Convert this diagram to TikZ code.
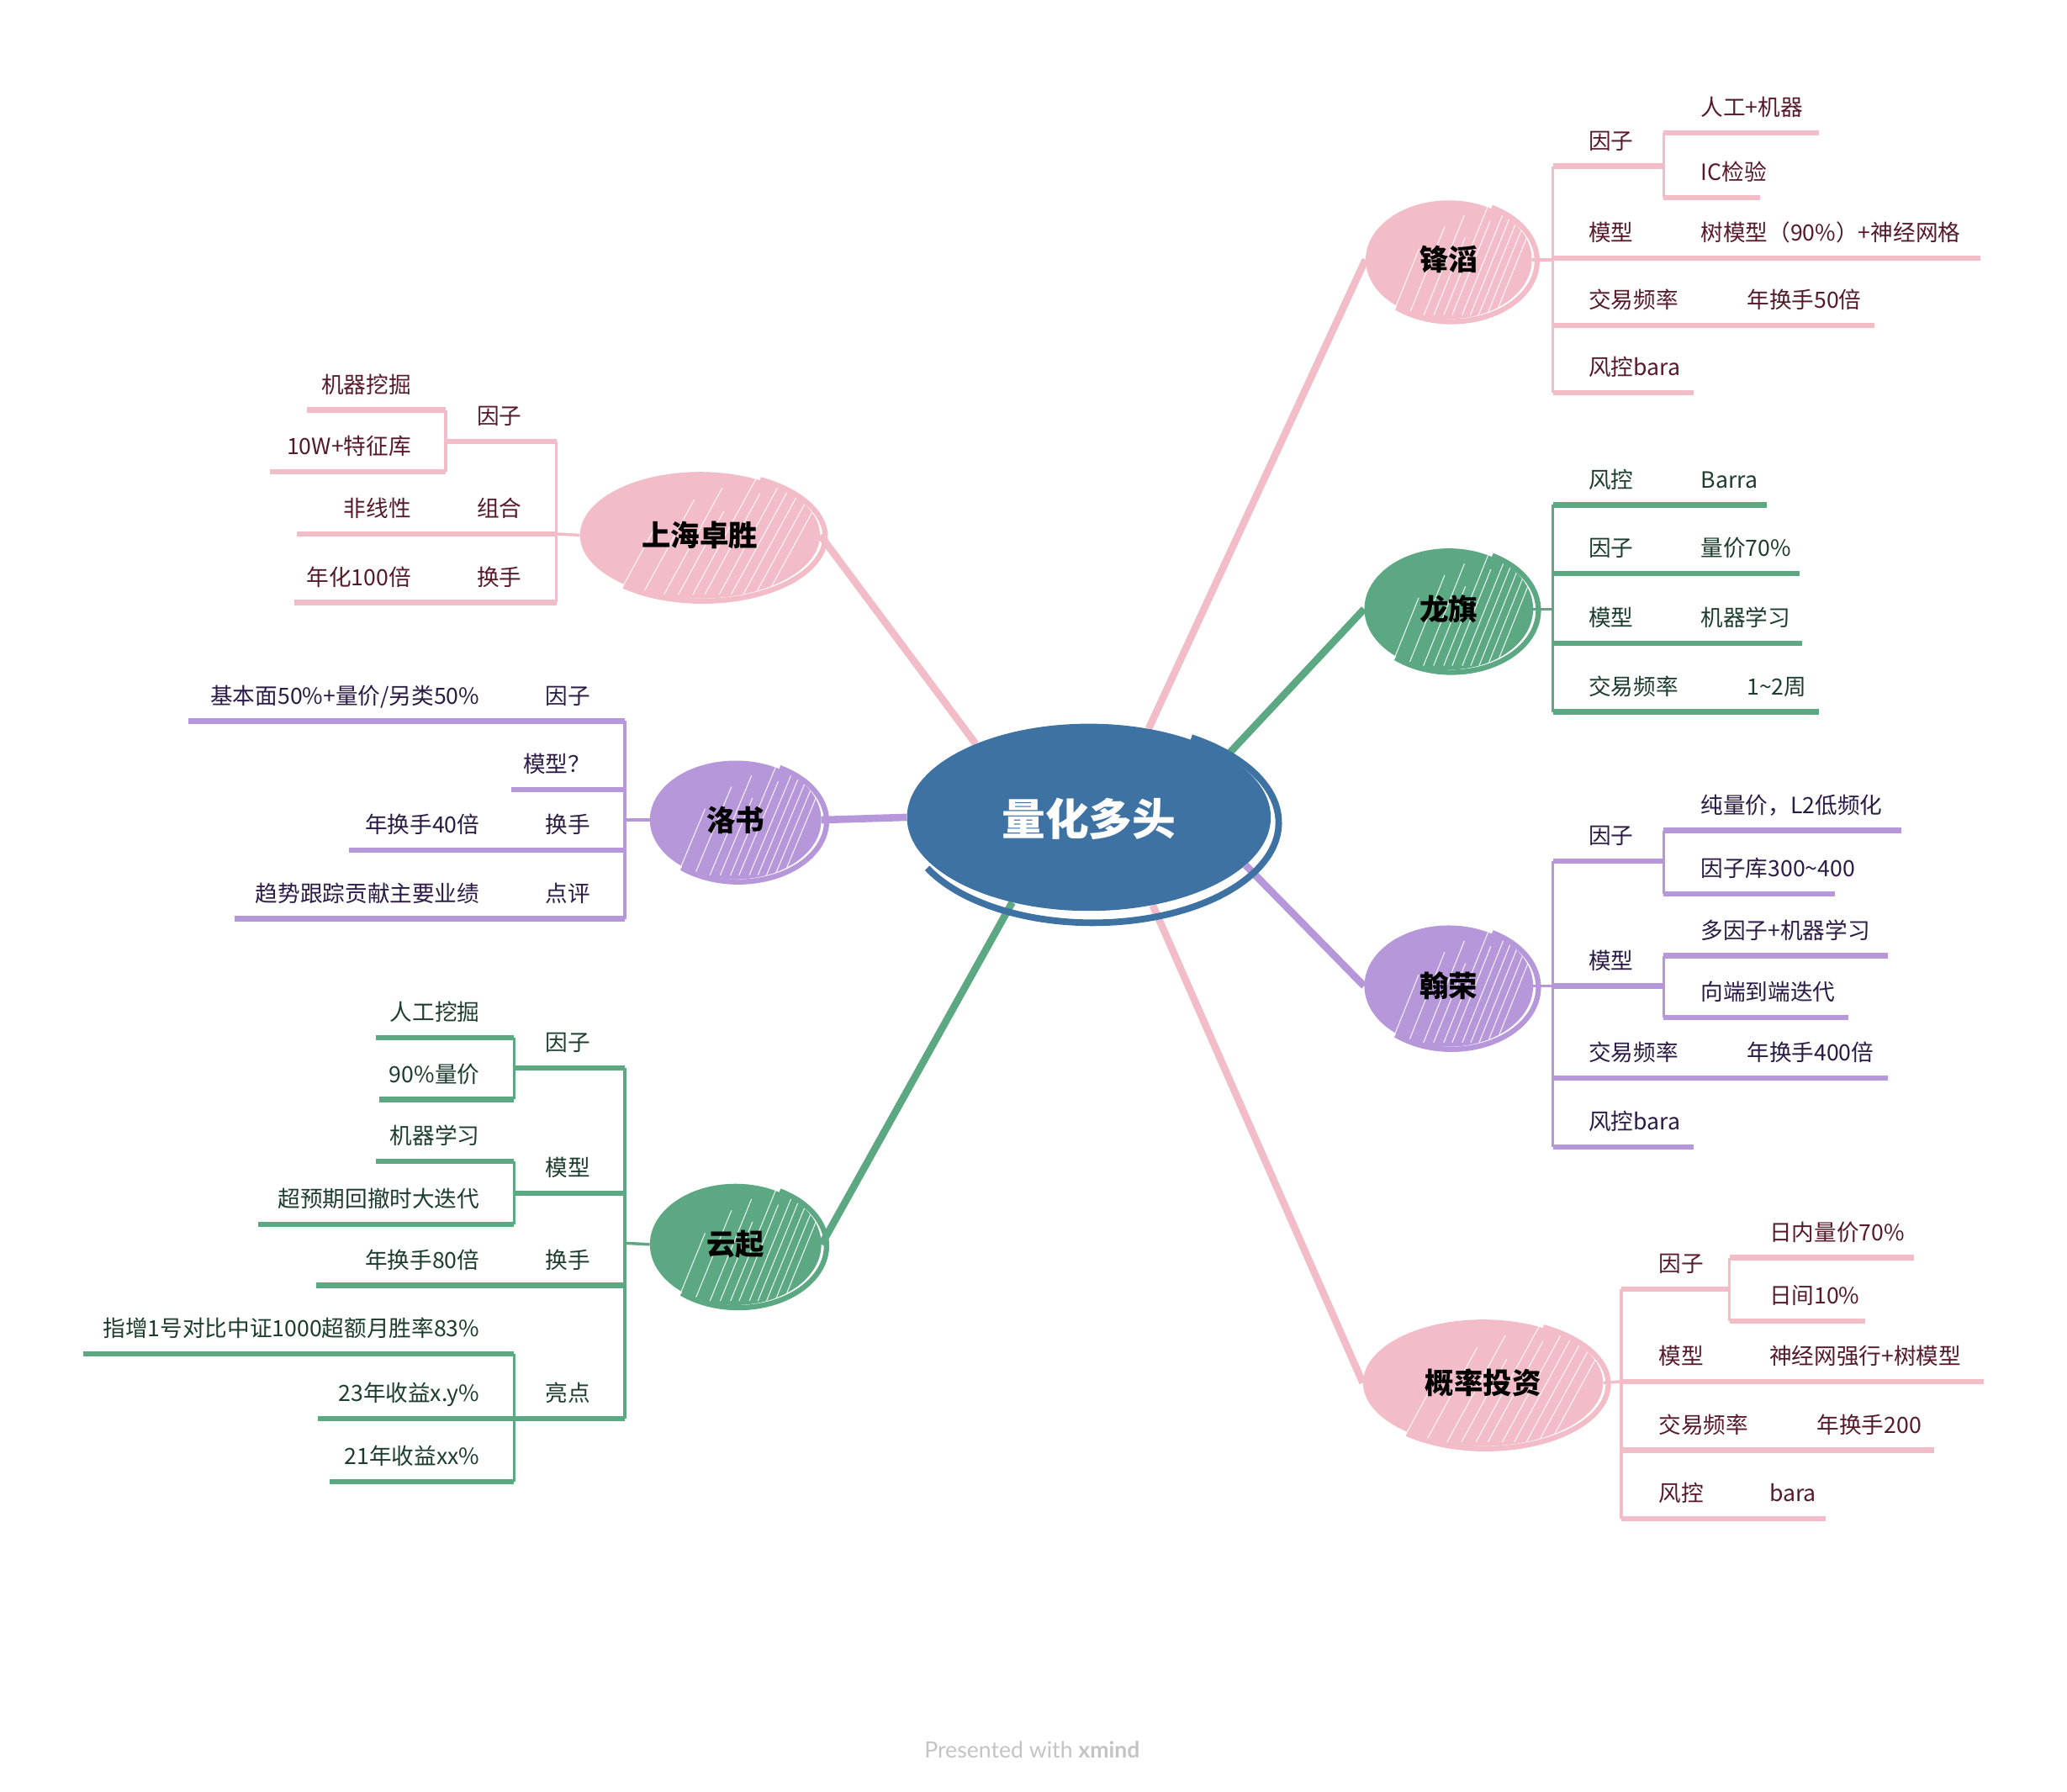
\documentclass[tikz,border=0pt]{standalone}
\usepackage{fontspec}
\usetikzlibrary{shapes.geometric}
\newfontfamily\cjk{Noto Sans CJK SC}
\newfontfamily\footfont{Lato}
\definecolor{pkL}{HTML}{F2BDC8}
\definecolor{pkT}{HTML}{561A2A}
\definecolor{grL}{HTML}{5BA883}
\definecolor{grT}{HTML}{1D3D2E}
\definecolor{puL}{HTML}{B697D9}
\definecolor{puT}{HTML}{2C1B45}
\definecolor{blueC}{HTML}{3D72A3}
\definecolor{footC}{HTML}{C4C4C4}
\pgfdeclarelayer{bg}\pgfsetlayers{bg,main}
\tikzset{
 lbl/.style={font=\cjk\fontsize{17}{20}\selectfont, inner sep=0pt},
 tpcshape/.style={ellipse, inner sep=0pt, draw=none},
 tpctext/.style={font=\cjk\bfseries\fontsize{22}{26}\selectfont, text=black, inner sep=0pt},
 uline/.style={line width=4pt},
 brk/.style={line width=2.2pt},
 conn/.style={line width=5.5pt},
 ring/.style={line width=4pt},
}
\newcommand\RI[7]{%
  \node[lbl, anchor=base west, text=#6T] (#1) at (#2,#3-13) {#7};
  \coordinate (#1a) at (#4,#3);
  \coordinate (#1b) at (#5,#3);
  \draw[uline, #6L] (#1a) -- (#1b);}
\newcommand\LI[7]{%
  \node[lbl, anchor=base east, text=#6T] (#1) at (#2,#3-13) {#7};
  \coordinate (#1a) at (#4,#3);
  \coordinate (#1b) at (#5,#3);
  \draw[uline, #6L] (#1a) -- (#1b);}
\newcommand\Topic[7]{%
  \node[tpcshape, fill=#6, minimum width=#4pt, minimum height=#5pt] (#1) at (#2,#3) {};
  \begin{scope}
    \clip (#2,#3) ellipse [x radius=#4pt/2, y radius=#5pt/2];
    \foreach \hh/\ll in {-0.12/0.6,-0.02/0.8,0.07/0.9,0.13/0.7,0.19/1,0.24/0.85,0.3/1,0.35/0.9,0.4/1,0.45/1,0.5/1}{
      \draw[white, line width=0.7pt, opacity=0.85] ({#2+(\hh-0.22)*#4},{#3+#5/2-3}) -- ({#2+(\hh-0.22+0.27*\ll)*#4},{#3+#5/2-3-\ll*(#5-6)});}
  \end{scope}
  \draw[ring, #6] ({#2+2+(#4/2+2)*cos(62)},{#3+1-(#5/2+1)*sin(62)})
     arc[start angle=62, end angle=-130, x radius=#4pt/2+2pt, y radius=#5pt/2+1pt];
  \node[tpctext] (#1t) at (#2,#3) {#7};}
\begin{document}
\begin{tikzpicture}[x=1pt,y=-1pt]
\begin{pgfonlayer}{bg}
\fill[white] (0,0) rectangle (1568,1359);
\end{pgfonlayer}
\useasboundingbox (0,0) rectangle (1568,1359);

% central topic
\node[tpcshape, fill=blueC, minimum width=276pt, minimum height=142pt] (C) at (826,620) {};
\draw[line width=5pt, blueC] ({829+141*cos(58)},{624-76*sin(58)})
   arc[start angle=58, end angle=-153, x radius=141pt, y radius=76pt];
\node[font=\cjk\bfseries\fontsize{33}{36}\selectfont, text=white, inner sep=0pt] (Ct) at (826,621) {量化多头};

% ---- 锋滔
\Topic{t1}{1099}{197}{126}{90}{pkL}{锋滔}
\coordinate (k1) at (1178,197);
\draw[brk,pkL] (t1.east) -- (k1);
\RI{a1}{1205}{126}{1178}{1262}{pk}{因子}
\RI{a11}{1290}{101}{1262}{1380}{pk}{人工+机器}
\RI{a12}{1290}{150}{1262}{1335}{pk}{IC检验}
\draw[brk,pkL] (a11a) -- (a12a);
\RI{a2}{1205}{196}{1178}{1262}{pk}{模型}
\RI{a21}{1290}{196}{1262}{1502}{pk}{树模型（90\%）+神经网格}
\RI{a3}{1205}{247}{1178}{1315}{pk}{交易频率}
\RI{a31}{1325}{247}{1315}{1422}{pk}{年换手50倍}
\RI{a4}{1205}{298}{1178}{1285}{pk}{风控bara}
\draw[brk,pkL] (a1a) -- (a4a);

% ---- 龙旗
\Topic{t2}{1099}{462}{128}{92}{grL}{龙旗}
\coordinate (k2) at (1178,462);
\draw[brk,grL] (t2.east) -- (k2);
\RI{b1}{1205}{383}{1178}{1262}{gr}{风控}
\RI{b11}{1290}{383}{1262}{1340}{gr}{Barra}
\RI{b2}{1205}{435}{1178}{1262}{gr}{因子}
\RI{b21}{1290}{435}{1262}{1365}{gr}{量价70\%}
\RI{b3}{1205}{488}{1178}{1262}{gr}{模型}
\RI{b31}{1290}{488}{1262}{1367}{gr}{机器学习}
\RI{b4}{1205}{540}{1178}{1315}{gr}{交易频率}
\RI{b41}{1325}{540}{1315}{1380}{gr}{1\textasciitilde 2周}
\draw[brk,grL] (b1a) -- (b4a);

% ---- 翰荣
\Topic{t3}{1099}{748}{128}{92}{puL}{翰荣}
\coordinate (k3) at (1178,748);
\draw[brk,puL] (t3.east) -- (k3);
\RI{c1}{1205}{653}{1178}{1262}{pu}{因子}
\RI{c11}{1290}{630}{1262}{1442}{pu}{纯量价，L2低频化}
\RI{c12}{1290}{678}{1262}{1392}{pu}{因子库300\textasciitilde 400}
\draw[brk,puL] (c11a) -- (c12a);
\RI{c2}{1205}{748}{1178}{1262}{pu}{模型}
\RI{c21}{1290}{725}{1262}{1432}{pu}{多因子+机器学习}
\RI{c22}{1290}{772}{1262}{1402}{pu}{向端到端迭代}
\draw[brk,puL] (c21a) -- (c22a);
\RI{c3}{1205}{818}{1178}{1315}{pu}{交易频率}
\RI{c31}{1325}{818}{1315}{1432}{pu}{年换手400倍}
\RI{c4}{1205}{870}{1178}{1285}{pu}{风控bara}
\draw[brk,puL] (c1a) -- (c4a);

% ---- 概率投资
\Topic{t4}{1125}{1049}{182}{96}{pkL}{概率投资}
\coordinate (k4) at (1230,1048);
\draw[brk,pkL] (t4.east) -- (k4);
\RI{d1}{1258}{978}{1230}{1312}{pk}{因子}
\RI{d11}{1342}{954}{1312}{1452}{pk}{日内量价70\%}
\RI{d12}{1342}{1002}{1312}{1415}{pk}{日间10\%}
\draw[brk,pkL] (d11a) -- (d12a);
\RI{d2}{1258}{1048}{1230}{1312}{pk}{模型}
\RI{d21}{1342}{1048}{1312}{1505}{pk}{神经网强行+树模型}
\RI{d3}{1258}{1100}{1230}{1365}{pk}{交易频率}
\RI{d31}{1378}{1100}{1365}{1467}{pk}{年换手200}
\RI{d4}{1258}{1152}{1230}{1312}{pk}{风控}
\RI{d41}{1342}{1152}{1312}{1385}{pk}{bara}
\draw[brk,pkL] (d1a) -- (d4a);

% ---- 上海卓胜
\Topic{t5}{531}{406}{182}{96}{pkL}{上海卓胜}
\coordinate (k5) at (422,405);
\draw[brk,pkL] (t5.west) -- (k5);
\LI{e1}{396}{335}{422}{338}{pk}{因子}
\LI{e11}{312}{311}{338}{233}{pk}{机器挖掘}
\LI{e12}{312}{358}{338}{205}{pk}{10W+特征库}
\draw[brk,pkL] (e11a) -- (e12a);
\LI{e2}{396}{405}{422}{338}{pk}{组合}
\LI{e21}{312}{405}{338}{225}{pk}{非线性}
\LI{e3}{396}{457}{422}{338}{pk}{换手}
\LI{e31}{312}{457}{338}{223}{pk}{年化100倍}
\draw[brk,pkL] (e1a) -- (e3a);

% ---- 洛书
\Topic{t6}{558}{622}{130}{90}{puL}{洛书}
\coordinate (k6) at (474,622);
\draw[brk,puL] (t6.west) -- (k6);
\LI{f1}{448}{547}{474}{388}{pu}{因子}
\LI{f11}{364}{547}{388}{143}{pu}{基本面50\%+量价/另类50\%}
\LI{f2}{448}{599}{474}{388}{pu}{模型？}
\LI{f3}{448}{645}{474}{388}{pu}{换手}
\LI{f31}{364}{645}{388}{265}{pu}{年换手40倍}
\LI{f4}{448}{697}{474}{388}{pu}{点评}
\LI{f41}{364}{697}{388}{178}{pu}{趋势跟踪贡献主要业绩}
\draw[brk,puL] (f1a) -- (f4a);

% ---- 云起
\Topic{t7}{558}{944}{130}{92}{grL}{云起}
\coordinate (k7) at (474,943);
\draw[brk,grL] (t7.west) -- (k7);
\LI{g1}{448}{810}{474}{390}{gr}{因子}
\LI{g11}{364}{787}{390}{285}{gr}{人工挖掘}
\LI{g12}{364}{834}{390}{288}{gr}{90\%量价}
\draw[brk,grL] (g11a) -- (g12a);
\LI{g2}{448}{905}{474}{390}{gr}{模型}
\LI{g21}{364}{881}{390}{285}{gr}{机器学习}
\LI{g22}{364}{929}{390}{196}{gr}{超预期回撤时大迭代}
\draw[brk,grL] (g21a) -- (g22a);
\LI{g3}{448}{975}{474}{390}{gr}{换手}
\LI{g31}{364}{975}{390}{240}{gr}{年换手80倍}
\LI{g4}{448}{1076}{474}{390}{gr}{亮点}
\LI{g41}{364}{1027}{390}{63}{gr}{指增1号对比中证1000超额月胜率83\%}
\LI{g42}{364}{1076}{390}{241}{gr}{23年收益x.y\%}
\LI{g43}{364}{1124}{390}{250}{gr}{21年收益xx\%}
\draw[brk,grL] (g41a) -- (g43a);
\draw[brk,grL] (g1a) -- (g4a);

% ---- connectors from the central topic
\begin{pgfonlayer}{bg}
\draw[conn, pkL] (C.56) -- (t1.west);
\draw[conn, grL] (C.24) -- (t2.west);
\draw[conn, puL] (C.-17) -- (t3.west);
\draw[conn, pkL] (C.-54) -- (t4.west);
\draw[conn, pkL] (C.147) -- (t5.east);
\draw[conn, puL] (C.180) -- (t6.east);
\draw[conn, grL] (C.-132) -- (t7.east);
\end{pgfonlayer}

\node[font=\footfont\fontsize{17}{20}\selectfont, text=footC, inner sep=0pt] (foot) at (783,1327) {Presented with \textbf{xmind}};
\end{tikzpicture}
\end{document}
